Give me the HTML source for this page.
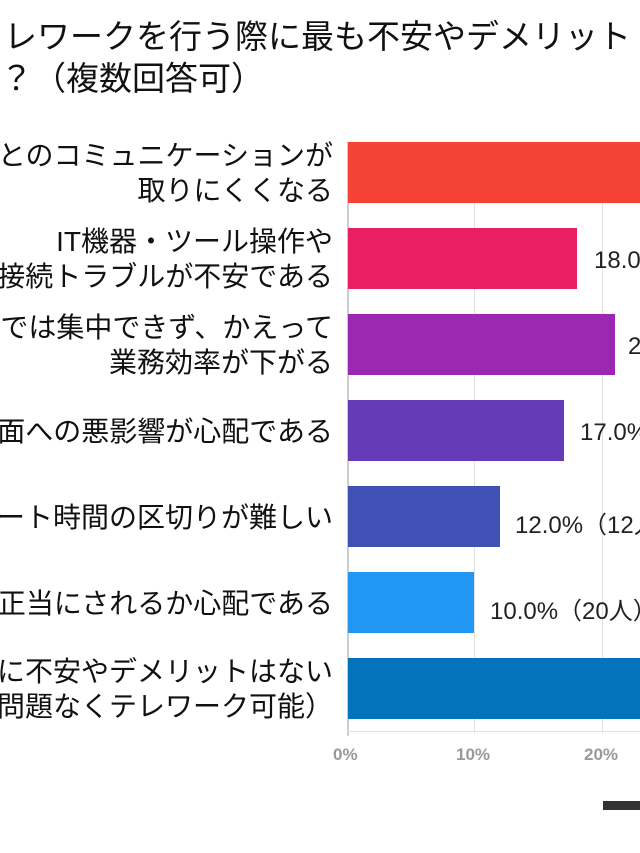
<!DOCTYPE html>
<html><head><meta charset="utf-8"><style>
html,body{margin:0;padding:0;width:640px;height:853px;overflow:hidden;background:#fff}
#w{position:relative;width:640px;height:853px;overflow:hidden;font-family:"Liberation Sans","Noto Sans CJK JP",sans-serif;color:#111}
.t{position:absolute;white-space:nowrap;font-size:33px;left:4px;line-height:1}
.l{position:absolute;right:307px;text-align:right;white-space:nowrap;font-size:28px;line-height:35px;color:#111}
.b{position:absolute;left:348px;height:61px}
.g{position:absolute;top:142px;height:592px;width:1px;background:#e2e2e2}
.v{position:absolute;font-size:24px;white-space:nowrap;color:#222}
.x{position:absolute;top:745px;font-size:17px;color:#999;font-weight:bold}
</style></head><body><div id="w">
<div class="t" style="top:20px">レワークを行う際に最も不安やデメリット</div>
<div class="t" style="top:62px;left:0px">？（複数回答可）</div>
<div class="g" style="left:474px"></div>
<div class="g" style="left:602px"></div>
<div style="position:absolute;left:347px;top:142px;width:2px;height:594px;background:#ccc"></div>
<div style="position:absolute;left:347px;top:731px;width:293px;height:1px;background:#e2e2e2"></div>
<div class="b" style="top:142px;width:292px;background:#f44336"></div>
<div class="b" style="top:228px;width:229px;background:#e91e63"></div>
<div class="b" style="top:314px;width:267px;background:#9c27b0"></div>
<div class="b" style="top:400px;width:216px;background:#673ab7"></div>
<div class="b" style="top:486px;width:152px;background:#3f51b5"></div>
<div class="b" style="top:572px;width:126px;background:#2196f3"></div>
<div class="b" style="top:658px;width:292px;background:#0374bc"></div>
<div class="l" style="top:138px">とのコミュニケーションが<br>取りにくくなる</div>
<div class="l" style="top:224px">IT機器・ツール操作や<br>接続トラブルが不安である</div>
<div class="l" style="top:310px">では集中できず、かえって<br>業務効率が下がる</div>
<div class="l" style="top:414px">面への悪影響が心配である</div>
<div class="l" style="top:500px">ート時間の区切りが難しい</div>
<div class="l" style="top:586px">正当にされるか心配である</div>
<div class="l" style="top:654px">に不安やデメリットはない<br>問題なくテレワーク可能）</div>
<div class="v" style="left:594px;top:247px">18.0%</div>
<div class="v" style="left:628px;top:333px">2</div>
<div class="v" style="left:580px;top:419px">17.0%</div>
<div class="v" style="left:515px;top:505px">12.0%（12人）</div>
<div class="v" style="left:490px;top:591px">10.0%（20人）</div>
<div class="x" style="left:333px">0%</div>
<div class="x" style="left:456px">10%</div>
<div class="x" style="left:584px">20%</div>
<div style="position:absolute;left:603px;top:801px;width:37px;height:9px;background:#333"></div>
</div></body></html>
